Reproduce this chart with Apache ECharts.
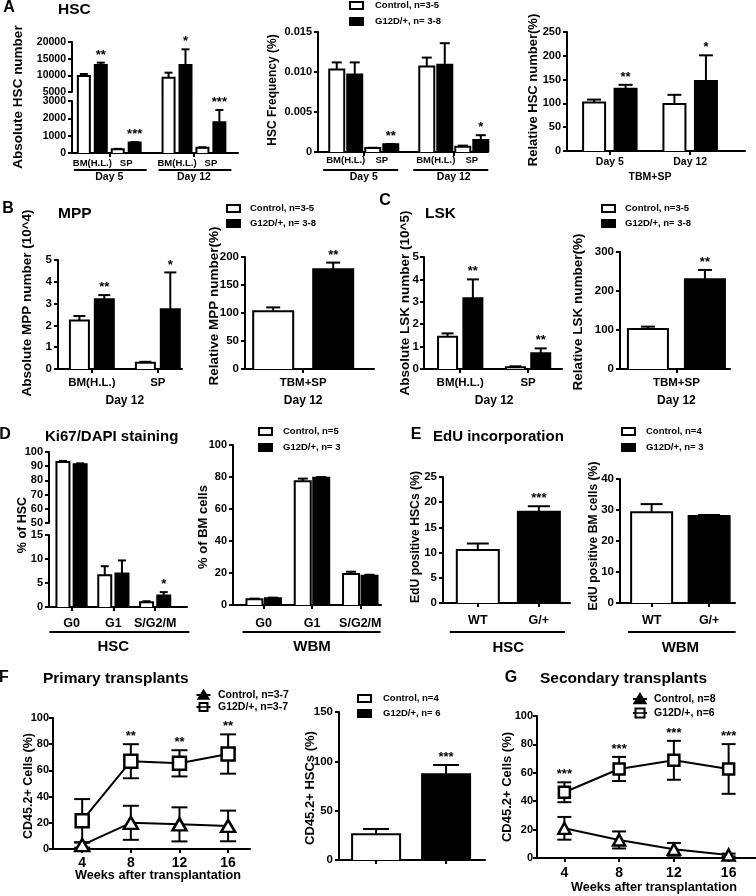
<!DOCTYPE html>
<html><head><meta charset="utf-8">
<script src="https://cdn.jsdelivr.net/npm/echarts@6/dist/echarts.min.js"></script>
<style>html,body{margin:0;padding:0;background:#fff}#c{width:756px;height:896px}</style>
</head><body><div id="c"></div>
<script>
// ================= DATA =================
const dayLabels = ['Day 5', 'Day 12'];
const tissueLabels = ['BM(H.L.)', 'SP'];
const phaseLabels = ['G0', 'G1', 'S/G2/M'];
const genoLabels = ['WT', 'G/+'];
const weeks = [4, 8, 12, 16];

// A: absolute HSC number (order: Day5 BM, Day5 SP, Day12 BM, Day12 SP)
const hscAbsCtrl = [9800, 220, 9300, 300];
const hscAbsCtrlErr = [600, 20, 1500, 30];
const hscAbsG12d = [13100, 600, 13100, 1770];
const hscAbsG12dErr = [700, 30, 4700, 710];
const hscAbsStars = ['**', '***', '*', '***'];
// A: HSC frequency (%)
const hscFreqCtrl = [0.0103, 0.0005, 0.0107, 0.00065];
const hscFreqCtrlErr = [0.0009, 0.00003, 0.0011, 0.00015];
const hscFreqG12d = [0.0097, 0.00096, 0.0109, 0.0015];
const hscFreqG12dErr = [0.0015, 0.00004, 0.0027, 0.0006];
const hscFreqStars = ['', '**', '', '*'];
// A: relative HSC number (TBM+SP), Day 5 / Day 12
const hscRelCtrl = [102, 99];
const hscRelCtrlErr = [6, 19];
const hscRelG12d = [131, 147];
const hscRelG12dErr = [8, 54];
const hscRelStars = ['**', '*'];
// B: MPP
const mppAbsCtrl = [2.22, 0.29];
const mppAbsCtrlErr = [0.21, 0.04];
const mppAbsG12d = [3.2, 2.74];
const mppAbsG12dErr = [0.19, 1.69];
const mppAbsStars = ['**', '*'];
const mppRelCtrl = [103];
const mppRelCtrlErr = [7];
const mppRelG12d = [178];
const mppRelG12dErr = [12];
const mppRelStars = ['**'];
// C: LSK
const lskAbsCtrl = [1.44, 0.08];
const lskAbsCtrlErr = [0.15, 0.04];
const lskAbsG12d = [3.16, 0.7];
const lskAbsG12dErr = [0.84, 0.22];
const lskAbsStars = ['**', '**'];
const lskRelCtrl = [102.6];
const lskRelCtrlErr = [6];
const lskRelG12d = [230];
const lskRelG12dErr = [24];
const lskRelStars = ['**'];
// D: Ki67/DAPI
const ki67HscCtrl = [93, 6.6, 1.0];
const ki67HscCtrlErr = [0.7, 1.9, 0.2];
const ki67HscG12d = [91.3, 7.0, 2.4];
const ki67HscG12dErr = [0.7, 2.7, 0.7];
const ki67HscStars = ['', '', '*'];
const ki67BmCtrl = [3.6, 77.4, 19.3];
const ki67BmCtrlErr = [0.4, 1.6, 1.5];
const ki67BmG12d = [4.2, 79.5, 18.3];
const ki67BmG12dErr = [0.4, 0.5, 0.6];
// E: EdU
const eduHscWT = [10.5];
const eduHscWTErr = [1.3];
const eduHscG = [18.1];
const eduHscGErr = [1.1];
const eduHscStars = ['***'];
const eduBmWT = [29.3];
const eduBmWTErr = [2.6];
const eduBmG = [28.1];
const eduBmGErr = [0.3];
// F: primary transplants
const primCtrl = [3, 20, 18.8, 17.6];
const primCtrlErr = [2, 13, 13, 11.7];
const primG12d = [21.6, 67, 65.4, 72.5];
const primG12dErr = [16.5, 13, 10, 15];
const primStars = ['', '**', '**', '**'];
const hscChimCtrl = [26];
const hscChimCtrlErr = [5.4];
const hscChimG12d = [87];
const hscChimG12dErr = [9.3];
const hscChimStars = ['***'];
// G: secondary transplants
const secCtrl = [20.9, 12.7, 6.1, 2.1];
const secCtrlErr = [8, 6, 4.5, 1];
const secG12d = [46.3, 62.7, 68.8, 62.7];
const secG12dErr = [7, 8.5, 13.7, 17.5];
const secStars = ['***', '***', '***', '***'];

// ================= BUILD =================
const FONT = '"Liberation Sans", Arial, Helvetica, sans-serif';
const option = { animation: false, backgroundColor: '#fff', grid: [], xAxis: [], yAxis: [], series: [] };
const panels = [];
const keyOf = v => (Math.round(v * 1000) / 1000).toFixed(3);
const LINE = { color: '#000', width: 2 };

function txt(x, y, text, size, o) {
  o = o || {};
  return { type: 'text', x, y, rotation: o.rot || 0, z: 100, silent: true,
    style: { text, fill: '#000', fontSize: size, fontWeight: 'bold', fontFamily: FONT,
      align: o.align || 'center', verticalAlign: o.va || 'middle' } };
}
function yTitle(x, y, text, size) { return txt(x, y, text, size, { rot: Math.PI / 2 }); }

function yAxisCfg(gi, seg, P) {
  return { gridIndex: gi, type: 'value', min: seg.min, max: seg.max, interval: seg.interval, position: 'left',
    axisLine: { show: true, onZero: false, lineStyle: LINE },
    axisTick: { show: true, length: 4, lineStyle: LINE },
    axisLabel: { color: '#000', fontWeight: 'bold', fontFamily: FONT, fontSize: P.yFont || 11,
      margin: P.yMargin || 6, formatter: seg.fmt || (v => String(v)), hideOverlap: false },
    splitLine: { show: false } };
}

function barRenderer(bw, seg, gapAbove) {
  return function (params, api) {
    const p = api.value(0), v = api.value(1), kind = api.value(2);
    if (v <= seg.min) return null;
    const cs = params.coordSys;
    const c = api.coord([p, Math.min(v, seg.max)]);
    const bot = api.coord([p, seg.min])[1];
    let top = c[1], open = false;
    if (v > seg.max) { top = cs.y - gapAbove; open = true; }
    const l = c[0] - bw / 2, r = c[0] + bw / 2;
    const ch = [{ type: 'rect', shape: { x: l, y: top, width: bw, height: bot - top }, style: { fill: kind ? '#000' : '#fff' } }];
    const st = { stroke: '#000', lineWidth: 2, fill: null };
    if (open) {
      ch.push({ type: 'line', shape: { x1: l, y1: top, x2: l, y2: bot }, style: st });
      ch.push({ type: 'line', shape: { x1: r, y1: top, x2: r, y2: bot }, style: st });
    } else {
      ch.push({ type: 'polyline', shape: { points: [[l, bot], [l, top], [r, top], [r, bot]] }, style: st });
    }
    return { type: 'group', children: ch };
  };
}

function errRenderer(capHalf, stars, starFont) {
  return function (params, api) {
    const p = api.value(0), lo = api.value(1), hi = api.value(2);
    const a = api.coord([p, lo]), b = api.coord([p, hi]);
    const st = { stroke: '#000', lineWidth: 2 };
    const ch = [
      { type: 'line', shape: { x1: a[0], y1: a[1], x2: b[0], y2: b[1] }, style: st },
      { type: 'line', shape: { x1: b[0] - capHalf, y1: b[1], x2: b[0] + capHalf, y2: b[1] }, style: st }
    ];
    if (api.value(3)) ch.push({ type: 'line', shape: { x1: a[0] - capHalf, y1: a[1], x2: a[0] + capHalf, y2: a[1] }, style: st });
    const s = stars && stars[params.dataIndex];
    if (s) ch.push({ type: 'text', x: b[0], y: b[1] - 1,
      style: { text: s, fill: '#000', fontSize: starFont || 13, fontWeight: 'bold', fontFamily: FONT, align: 'center', verticalAlign: 'bottom' } });
    return { type: 'group', children: ch };
  };
}

function addBarPanel(P) {
  const bars = [], labels = [], groupRanges = [], groupCenters = [];
  const subGap = P.subGap || 0, groupGap = P.groupGap || 0;
  const span = P.nSub * 2 + (P.nSub - 1) * subGap;
  for (let g = 0; g < P.nGroups; g++) {
    const gBase = g * (span + groupGap);
    for (let s = 0; s < P.nSub; s++) {
      const i = g * P.nSub + s;
      const base = gBase + s * (2 + subGap);
      bars.push({ p: base, v: P.ctrl[i], e: P.ctrlErr[i], kind: 0, star: '' });
      bars.push({ p: base + 1, v: P.g12d[i], e: P.g12dErr[i], kind: 1, star: (P.stars && P.stars[i]) || '' });
      if (P.labelMode === 'sub') labels.push({ p: base + 0.5, text: P.subLabels[s] });
      if (P.labelMode === 'bar') { labels.push({ p: base, text: P.barLabels[0] }); labels.push({ p: base + 1, text: P.barLabels[1] }); }
    }
    groupRanges.push([gBase, gBase + span - 1]);
    groupCenters.push(gBase + (span - 1) / 2);
    if (P.labelMode === 'group') labels.push({ p: gBase + (span - 1) / 2, text: P.groupLabels[g] });
  }
  const labelMap = {};
  labels.forEach(l => { labelMap[keyOf(l.p)] = l.text; });
  let tickVals = labels.map(l => l.p);
  if (P.tickMode === 'group') tickVals = groupCenters;
  if (P.tickMode === 'bars') tickVals = bars.map(b => b.p);
  P.bars = bars; P.groupRanges = groupRanges;
  P.segs.forEach((seg, si) => {
    const gi = option.grid.length;
    const isBottom = si === P.segs.length - 1;
    option.grid.push({ left: P.left, top: seg.top, width: P.width, height: seg.height, containLabel: false, outerBoundsMode: 'none' });
    option.xAxis.push({ gridIndex: gi, type: 'value', min: P.xMin, max: P.xMax, show: isBottom, position: 'bottom',
      axisLine: { show: true, onZero: false, lineStyle: LINE },
      axisTick: { show: tickVals.length > 0, length: 4, lineStyle: LINE, customValues: tickVals },
      axisLabel: { show: labels.length > 0, customValues: labels.map(l => l.p), formatter: v => labelMap[keyOf(v)] || '',
        margin: P.labelMargin || 5, color: '#000', fontWeight: 'bold', fontFamily: FONT, fontSize: P.labelFont || 11, hideOverlap: false },
      splitLine: { show: false } });
    option.yAxis.push(yAxisCfg(gi, seg, P));
    const ax = option.xAxis.length - 1;
    if (isBottom) P.bottomGrid = gi;
    const gapAbove = si > 0 ? seg.top - (P.segs[si - 1].top + P.segs[si - 1].height) : 0;
    option.series.push({ type: 'custom', xAxisIndex: ax, yAxisIndex: ax, z: 2, clip: false,
      data: bars.map(b => [b.p, b.v, b.kind]), renderItem: barRenderer(P.barWidth, seg, gapAbove) });
    const eb = bars.filter(b => b.e != null && b.v + b.e >= seg.min && b.v + b.e <= seg.max * 1.0001);
    option.series.push({ type: 'custom', xAxisIndex: ax, yAxisIndex: ax, z: 3, clip: false,
      data: eb.map(b => [b.p, b.v, b.v + b.e, 0]), renderItem: errRenderer(P.capHalf, eb.map(b => b.star), P.starFont) });
  });
  panels.push(P);
}

function addLinePanel(P) {
  const gi = option.grid.length;
  option.grid.push({ left: P.left, top: P.top, width: P.width, height: P.height, containLabel: false, outerBoundsMode: 'none' });
  option.xAxis.push({ gridIndex: gi, type: 'value', min: P.xMin, max: P.xMax,
    axisLine: { show: true, onZero: false, lineStyle: LINE },
    axisTick: { show: true, length: 4, lineStyle: LINE, customValues: P.x },
    axisLabel: { customValues: P.x, formatter: v => String(v), margin: P.labelMargin, color: '#000', fontWeight: 'bold',
      fontFamily: FONT, fontSize: P.labelFont, hideOverlap: false },
    splitLine: { show: false } });
  option.yAxis.push(yAxisCfg(gi, { min: 0, max: 100, interval: 20 }, P));
  const ax = option.xAxis.length - 1;
  option.series.push({ type: 'custom', xAxisIndex: ax, yAxisIndex: ax, z: 2, clip: false,
    data: P.x.map((w, i) => [w, P.ctrl[i] - P.ctrlErr[i], P.ctrl[i] + P.ctrlErr[i], 1]), renderItem: errRenderer(P.capHalf, null) });
  option.series.push({ type: 'custom', xAxisIndex: ax, yAxisIndex: ax, z: 2, clip: false,
    data: P.x.map((w, i) => [w, P.g12d[i] - P.g12dErr[i], P.g12d[i] + P.g12dErr[i], 1]), renderItem: errRenderer(P.capHalf, P.stars, 13) });
  const lineCommon = { type: 'line', xAxisIndex: ax, yAxisIndex: ax, z: 4, clip: false, showSymbol: true,
    lineStyle: { color: '#000', width: 2 }, itemStyle: { color: '#fff', borderColor: '#000', borderWidth: 2.5 } };
  option.series.push(Object.assign({}, lineCommon, { symbol: 'triangle', symbolSize: P.triSize, data: P.x.map((w, i) => [w, P.ctrl[i]]) }));
  option.series.push(Object.assign({}, lineCommon, { symbol: 'rect', symbolSize: P.sqSize, data: P.x.map((w, i) => [w, P.g12d[i]]) }));
}

// ---- panel A ----
addBarPanel({ left: 72, width: 166, xMin: -0.7, xMax: 9.1, barWidth: 12, capHalf: 4, yFont: 10.5,
  segs: [{ top: 42, height: 50, min: 5000, max: 20000, interval: 5000 }, { top: 101, height: 52, min: 0, max: 3000, interval: 1000 }],
  nGroups: 2, nSub: 2, groupGap: 1, ctrl: hscAbsCtrl, ctrlErr: hscAbsCtrlErr, g12d: hscAbsG12d, g12dErr: hscAbsG12dErr, stars: hscAbsStars,
  labelMode: 'sub', subLabels: tissueLabels, labelFont: 9.5, labelMargin: 5, tickMode: 'group',
  row2: { labels: dayLabels, y: 177, font: 10.5, lineY: 170, ext: [4, 6] } });
addBarPanel({ left: 318, width: 170, xMin: -1.04, xMax: 8.4, barWidth: 15, capHalf: 5, yFont: 11,
  segs: [{ top: 32, height: 120, min: 0, max: 0.015, interval: 0.005, fmt: v => v === 0 ? '0' : v.toFixed(3) }],
  nGroups: 2, nSub: 2, groupGap: 1, ctrl: hscFreqCtrl, ctrlErr: hscFreqCtrlErr, g12d: hscFreqG12d, g12dErr: hscFreqG12dErr, stars: hscFreqStars,
  labelMode: 'sub', subLabels: tissueLabels, labelFont: 9.5, labelMargin: 3, tickMode: 'group',
  row2: { labels: dayLabels, y: 177, font: 10.5, lineY: 170, ext: [6, 0] } });
addBarPanel({ left: 567, width: 178, xMin: -0.86, xMax: 4.79, barWidth: 22, capHalf: 7, yFont: 11,
  segs: [{ top: 32, height: 119, min: 0, max: 250, interval: 50 }],
  nGroups: 2, nSub: 1, groupGap: 0.55, ctrl: hscRelCtrl, ctrlErr: hscRelCtrlErr, g12d: hscRelG12d, g12dErr: hscRelG12dErr, stars: hscRelStars,
  labelMode: 'group', groupLabels: dayLabels, labelFont: 10.5, labelMargin: 6,
  row2: { labels: ['TBM+SP'], span: true, y: 177, font: 10.5 } });
// ---- panel B ----
addBarPanel({ left: 58, width: 124, xMin: -0.86, xMax: 4.12, barWidth: 19, capHalf: 6, yFont: 11.5,
  segs: [{ top: 260, height: 109, min: 0, max: 5, interval: 1 }],
  nGroups: 1, nSub: 2, subGap: 0.65, ctrl: mppAbsCtrl, ctrlErr: mppAbsCtrlErr, g12d: mppAbsG12d, g12dErr: mppAbsG12dErr, stars: mppAbsStars,
  labelMode: 'sub', subLabels: tissueLabels, labelFont: 11.5, labelMargin: 8,
  row2: { labels: ['Day 12'], y: 401, font: 12 } });
addBarPanel({ left: 245, width: 129, xMin: -0.47, xMax: 1.68, barWidth: 40, capHalf: 7, yFont: 11.5,
  segs: [{ top: 257, height: 112, min: 0, max: 200, interval: 50 }],
  nGroups: 1, nSub: 1, ctrl: mppRelCtrl, ctrlErr: mppRelCtrlErr, g12d: mppRelG12d, g12dErr: mppRelG12dErr, stars: mppRelStars,
  labelMode: 'group', groupLabels: ['TBM+SP'], labelFont: 11.5, labelMargin: 8,
  row2: { labels: ['Day 12'], y: 401, font: 12 } });
// ---- panel C ----
addBarPanel({ left: 424, width: 138, xMin: -0.93, xMax: 4.52, barWidth: 19, capHalf: 6, yFont: 11.5, yMargin: 5,
  segs: [{ top: 257, height: 112, min: 0, max: 5, interval: 1 }],
  nGroups: 1, nSub: 2, subGap: 0.68, ctrl: lskAbsCtrl, ctrlErr: lskAbsCtrlErr, g12d: lskAbsG12d, g12dErr: lskAbsG12dErr, stars: lskAbsStars,
  labelMode: 'sub', subLabels: tissueLabels, labelFont: 11.5, labelMargin: 8,
  row2: { labels: ['Day 12'], y: 401, font: 12 } });
addBarPanel({ left: 620, width: 110, xMin: -0.49, xMax: 1.44, barWidth: 40, capHalf: 7, yFont: 11.5,
  segs: [{ top: 252, height: 117, min: 0, max: 300, interval: 100 }],
  nGroups: 1, nSub: 1, ctrl: lskRelCtrl, ctrlErr: lskRelCtrlErr, g12d: lskRelG12d, g12dErr: lskRelG12dErr, stars: lskRelStars,
  labelMode: 'group', groupLabels: ['TBM+SP'], labelFont: 11.5, labelMargin: 8,
  row2: { labels: ['Day 12'], y: 401, font: 12 } });
// ---- panel D ----
addBarPanel({ left: 49, width: 138, xMin: -0.81, xMax: 7.21, barWidth: 13, capHalf: 4, yFont: 11,
  segs: [{ top: 452, height: 71, min: 50, max: 100, interval: 10 }, { top: 535, height: 72, min: 0, max: 15, interval: 5 }],
  nGroups: 1, nSub: 3, subGap: 0.43, ctrl: ki67HscCtrl, ctrlErr: ki67HscCtrlErr, g12d: ki67HscG12d, g12dErr: ki67HscG12dErr, stars: ki67HscStars,
  labelMode: 'sub', subLabels: phaseLabels, labelFont: 12.5, labelMargin: 10,
  row2: { labels: ['HSC'], y: 647, font: 15, lineY: 632, ext: [7, 19] } });
addBarPanel({ left: 233, width: 148, xMin: -1.16, xMax: 6.84, barWidth: 16, capHalf: 5, yFont: 11,
  segs: [{ top: 445, height: 160, min: 0, max: 100, interval: 20 }],
  nGroups: 1, nSub: 3, subGap: 0.61, ctrl: ki67BmCtrl, ctrlErr: ki67BmCtrlErr, g12d: ki67BmG12d, g12dErr: ki67BmG12dErr, stars: null,
  labelMode: 'sub', subLabels: phaseLabels, labelFont: 12.5, labelMargin: 12,
  row2: { labels: ['WBM'], y: 647, font: 15, lineY: 632, ext: [4, 3] } });
// ---- panel E ----
addBarPanel({ left: 443, width: 127, xMin: -0.57, xMax: 1.51, barWidth: 42, capHalf: 11, yFont: 11.5,
  segs: [{ top: 477, height: 126, min: 0, max: 25, interval: 5 }],
  nGroups: 1, nSub: 1, ctrl: eduHscWT, ctrlErr: eduHscWTErr, g12d: eduHscG, g12dErr: eduHscGErr, stars: eduHscStars,
  labelMode: 'bar', barLabels: genoLabels, labelFont: 12.5, labelMargin: 11,
  row2: { labels: ['HSC'], y: 648, font: 15, lineY: 632, ext: [7, 5] } });
addBarPanel({ left: 620, width: 115, xMin: -0.55, xMax: 1.45, barWidth: 41, capHalf: 11, yFont: 11.5,
  segs: [{ top: 479, height: 124, min: 0, max: 40, interval: 10 }],
  nGroups: 1, nSub: 1, ctrl: eduBmWT, ctrlErr: eduBmWTErr, g12d: eduBmG, g12dErr: eduBmGErr, stars: null,
  labelMode: 'bar', barLabels: genoLabels, labelFont: 12.5, labelMargin: 11,
  row2: { labels: ['WBM'], y: 648, font: 15, lineY: 632, ext: [3, 6] } });
// ---- panel F ----
addLinePanel({ left: 53, top: 718, width: 197, height: 131, xMin: 1.6, xMax: 17.8, x: weeks,
  ctrl: primCtrl, ctrlErr: primCtrlErr, g12d: primG12d, g12dErr: primG12dErr, stars: primStars,
  capHalf: 8, triSize: [14, 12], sqSize: 13, labelFont: 14, labelMargin: 7, yFont: 11, yMargin: 4 });
addBarPanel({ left: 339, width: 146, xMin: -0.53, xMax: 1.556, barWidth: 48, capHalf: 13, yFont: 11.5,
  segs: [{ top: 712, height: 148, min: 0, max: 150, interval: 50 }],
  nGroups: 1, nSub: 1, ctrl: hscChimCtrl, ctrlErr: hscChimCtrlErr, g12d: hscChimG12d, g12dErr: hscChimG12dErr, stars: hscChimStars,
  labelMode: 'none', tickMode: 'bars' });
// ---- panel G ----
addLinePanel({ left: 537, top: 716, width: 219, height: 142, xMin: 2, xMax: 18, x: weeks,
  ctrl: secCtrl, ctrlErr: secCtrlErr, g12d: secG12d, g12dErr: secG12dErr, stars: secStars,
  capHalf: 7, triSize: [12, 11], sqSize: 11, labelFont: 14, labelMargin: 8, yFont: 11, yMargin: 4 });

// ---- static texts ----
function barLegend(x, y, textX, dy, names, size) {
  return [
    { type: 'rect', shape: { x, y, width: 13, height: 7 }, style: { fill: '#fff', stroke: '#000', lineWidth: 2 }, z: 100 },
    { type: 'rect', shape: { x, y: y + dy, width: 13, height: 7 }, style: { fill: '#000', stroke: '#000', lineWidth: 2 }, z: 100 },
    txt(textX, y + 3.5, names[0], size, { align: 'left' }),
    txt(textX, y + dy + 3.5, names[1], size, { align: 'left' })
  ];
}
function lineLegend(cx, y, dy, textX, names, size, tri, sq) {
  return [
    { type: 'line', shape: { x1: cx - 7, y1: y, x2: cx + 7, y2: y }, style: { stroke: '#000', lineWidth: 2 }, z: 100 },
    { type: 'polygon', shape: { points: [[cx, y - tri * 0.55], [cx - tri * 0.6, y + tri * 0.45], [cx + tri * 0.6, y + tri * 0.45]] },
      style: { fill: '#000', stroke: '#000', lineWidth: 1.5 }, z: 101 },
    { type: 'line', shape: { x1: cx - 7, y1: y + dy, x2: cx + 7, y2: y + dy }, style: { stroke: '#000', lineWidth: 2 }, z: 100 },
    { type: 'rect', shape: { x: cx - sq / 2, y: y + dy - sq / 2, width: sq, height: sq }, style: { fill: '#fff', stroke: '#000', lineWidth: 2 }, z: 101 },
    { type: 'line', shape: { x1: cx - sq / 2, y1: y + dy, x2: cx + sq / 2, y2: y + dy }, style: { stroke: '#000', lineWidth: 1.5 }, z: 102 },
    txt(textX, y, names[0], size, { align: 'left' }),
    txt(textX, y + dy, names[1], size, { align: 'left' })
  ];
}
const staticGraphics = [
  txt(9, 8, 'A', 16), txt(58, 10, 'HSC', 15.5, { align: 'left' }),
  txt(8, 209, 'B', 16), txt(58, 214, 'MPP', 15.5, { align: 'left' }),
  txt(385, 201, 'C', 16), txt(425, 214, 'LSK', 15.5, { align: 'left' }),
  txt(5, 435, 'D', 16), txt(45, 437, 'Ki67/DAPI staining', 15, { align: 'left' }),
  txt(416, 435, 'E', 16), txt(433, 437, 'EdU incorporation', 15, { align: 'left' }),
  txt(4, 678, 'F', 16), txt(43, 679, 'Primary transplants', 15.5, { align: 'left' }),
  txt(511, 678, 'G', 16), txt(540, 679, 'Secondary transplants', 15.5, { align: 'left' }),
  yTitle(18, 97, 'Absolute HSC number', 13.5),
  yTitle(273, 90, 'HSC Frequency (%)', 12),
  yTitle(533, 90, 'Relative HSC number(%)', 13),
  yTitle(27, 303, 'Absolute MPP number (10^4)', 13.5),
  yTitle(214, 306, 'Relative MPP number(%)', 13.5),
  yTitle(405, 303, 'Absolute LSK number (10^5)', 13.5),
  yTitle(578, 312, 'Relative LSK number(%)', 13.5),
  yTitle(23, 525, '% of HSC', 12.5),
  yTitle(203, 527, '% of BM cells', 13),
  yTitle(416, 537, 'EdU positive HSCs (%)', 12.2),
  yTitle(594, 536, 'EdU positive BM cells (%)', 12.2),
  yTitle(29, 786, 'CD45.2+ Cells (%)', 12.5),
  yTitle(310, 788, 'CD45.2+ HSCs (%)', 13),
  yTitle(507, 787, 'CD45.2+ Cells (%)', 13),
  txt(158, 875, 'Weeks after transplantation', 12.7),
  txt(654, 887, 'Weeks after transplantation', 12.7)
].concat(
  barLegend(350, 2, 375, 16, ['Control, n=3-5', 'G12D/+, n= 3-8'], 9.5),
  barLegend(227, 205, 250, 15, ['Control, n=3-5', 'G12D/+, n= 3-8'], 9.5),
  barLegend(602, 205, 625, 15, ['Control, n=3-5', 'G12D/+, n= 3-8'], 9.5),
  barLegend(259, 428, 283, 16, ['Control, n=5', 'G12D/+, n= 3'], 9.5),
  barLegend(622, 428, 646, 16, ['Control, n=4', 'G12D/+, n= 3'], 9.5),
  barLegend(358, 695, 383, 15, ['Control, n=4', 'G12D/+, n= 6'], 9.5),
  lineLegend(203.5, 695, 12, 218, ['Control, n=3-7', 'G12D/+, n=3-7'], 10.5, 9, 8),
  lineLegend(640, 699, 14, 654, ['Control, n=8', 'G12D/+, n=6'], 10.5, 10, 9)
);

const chart = echarts.init(document.getElementById('c'), null, { renderer: 'canvas', width: 756, height: 896 });
chart.setOption(option);
const row2 = [];
panels.forEach(P => {
  if (!P.row2) return;
  const R = P.row2;
  const yv = P.segs[P.segs.length - 1].min;
  const px = p => chart.convertToPixel({ gridIndex: P.bottomGrid }, [p, yv])[0];
  const spans = R.span ? [[P.bars[0].p, P.bars[P.bars.length - 1].p]] : P.groupRanges;
  spans.forEach((sp, k) => {
    const x0 = px(sp[0]) - P.barWidth / 2, x1 = px(sp[1]) + P.barWidth / 2;
    row2.push(txt((x0 + x1) / 2, R.y, R.labels[k], R.font));
    if (R.lineY) row2.push({ type: 'line', z: 100, shape: { x1: x0 - R.ext[0], y1: R.lineY, x2: x1 + R.ext[1], y2: R.lineY }, style: { stroke: '#000', lineWidth: 2 } });
  });
});
chart.setOption({ graphic: { elements: staticGraphics.concat(row2) } });
</script></body></html>
